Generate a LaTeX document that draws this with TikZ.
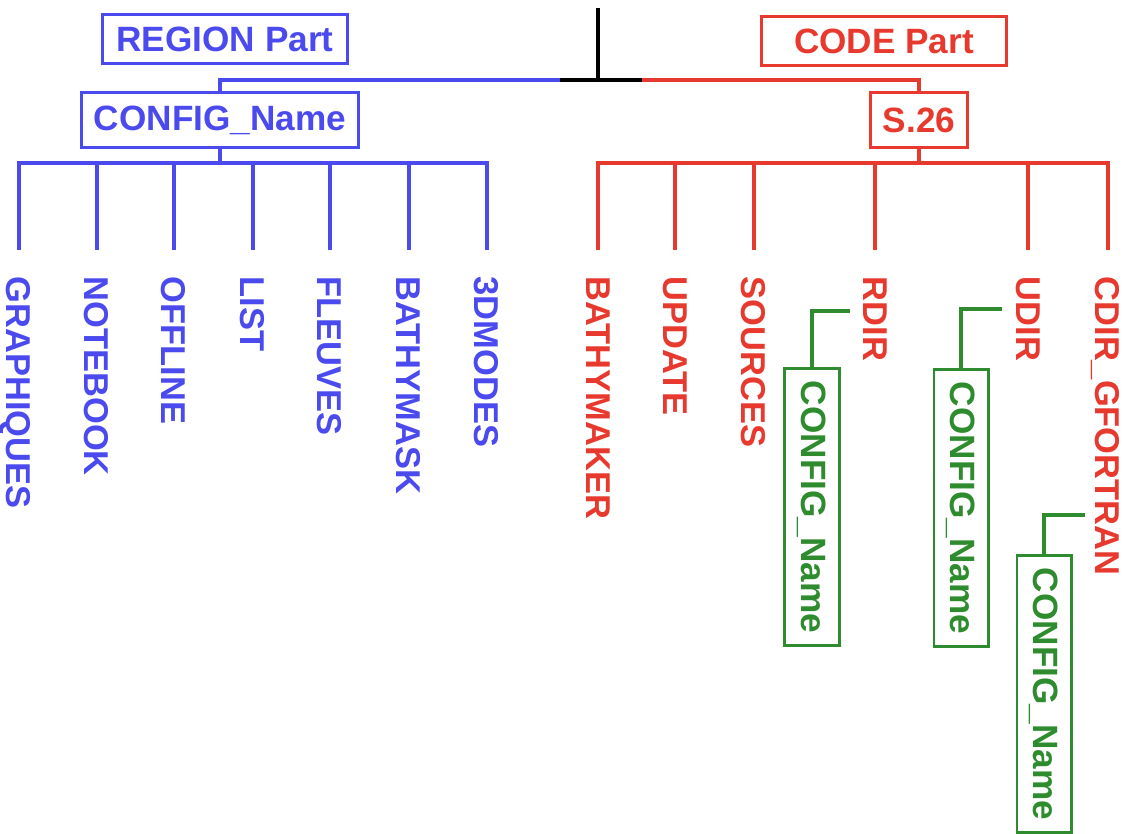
\documentclass[tikz,border=0pt]{standalone}
\usepackage{fontspec}
\setmainfont{Liberation Sans}

\definecolor{regBlue}{RGB}{74,74,238}
\definecolor{codeRed}{RGB}{232,57,46}
\definecolor{cfgGreen}{RGB}{46,139,46}

\tikzstyle{partNode} = [rectangle, minimum width=2.44cm, minimum height=0.48cm, inner xsep=0.12cm, text centered, line width=0.85pt, font=\fontsize{10}{12}\selectfont\bfseries]
\tikzstyle{dirNode} = [rectangle, minimum height=0.54cm, inner xsep=0.12cm, text centered, line width=0.85pt, font=\fontsize{10}{12}\selectfont\bfseries]
\tikzstyle{leafNode} = [rotate=-90, anchor=west, inner sep=0pt, text depth=0pt, font=\fontsize{9.8}{12}\selectfont\bfseries]
\tikzstyle{cfgNode} = [rectangle, rotate=-90, draw=cfgGreen, text=cfgGreen, minimum height=0.54cm, inner xsep=0.12cm, line width=0.85pt, font=\fontsize{10}{12}\selectfont\bfseries]
\tikzstyle{branch} = [line width=1.3pt]
\tikzstyle{cfgLink} = [line width=1pt, draw=cfgGreen]

\begin{document}
\begin{tikzpicture}[x=0.01cm, y=-0.01cm]
  \useasboundingbox (0,0) rectangle (1124,833);

  \coordinate (root) at (598,8);
  \coordinate (fork) at (598,80);
  \coordinate (forkL) at (560,80);
  \coordinate (forkR) at (642,80);

  \node (regionPart)[partNode, draw=regBlue, text=regBlue] at (225,39) {REGION Part};
  \node (codePart)[partNode, draw=codeRed, text=codeRed] at (884,41) {CODE Part};
  \node (regionCfg)[dirNode, draw=regBlue, text=regBlue] at (220,120) {CONFIG\_Name};
  \node (codeVer)[dirNode, draw=codeRed, text=codeRed] at (919,120) {S.26};

  \draw [branch, regBlue] (forkL) -| (regionCfg.north);
  \draw [branch, codeRed] (forkR) -| (codeVer.north);
  \draw [branch] (root) -- (fork);
  \draw [branch] (forkL) -- (forkR);

  % region side
  \coordinate (regionBus) at (220,163);
  \node (graphiques)[leafNode, text=regBlue] at (19,276) {GRAPHIQUES};
  \node (notebook)[leafNode, text=regBlue] at (97,276) {NOTEBOOK};
  \node (offline)[leafNode, text=regBlue] at (174,276) {OFFLINE};
  \node (list)[leafNode, text=regBlue] at (253,276) {LIST};
  \node (fleuves)[leafNode, text=regBlue] at (330,276) {FLEUVES};
  \node (bathymask)[leafNode, text=regBlue] at (409,276) {BATHYMASK};
  \node (modes3d)[leafNode, text=regBlue] at (487,276) {3DMODES};

  \draw [branch, regBlue] (regionCfg.south) -- (regionBus);
  \draw [branch, regBlue] ([yshift=0.26cm]graphiques.west) |- (regionBus) -| ([yshift=0.26cm]modes3d.west);
  \draw [branch, regBlue] (notebook.west |- regionBus) -- ([yshift=0.26cm]notebook.west);
  \draw [branch, regBlue] (offline.west |- regionBus) -- ([yshift=0.26cm]offline.west);
  \draw [branch, regBlue] (list.west |- regionBus) -- ([yshift=0.26cm]list.west);
  \draw [branch, regBlue] (fleuves.west |- regionBus) -- ([yshift=0.26cm]fleuves.west);
  \draw [branch, regBlue] (bathymask.west |- regionBus) -- ([yshift=0.26cm]bathymask.west);

  % code side
  \coordinate (codeBus) at (919,163);
  \node (bathymaker)[leafNode, text=codeRed] at (598,276) {BATHYMAKER};
  \node (update)[leafNode, text=codeRed] at (675,276) {UPDATE};
  \node (sources)[leafNode, text=codeRed] at (754,276) {SOURCES};
  \node (rdir)[leafNode, text=codeRed] at (875,276) {RDIR};
  \node (udir)[leafNode, text=codeRed] at (1028,276) {UDIR};
  \node (cdir)[leafNode, text=codeRed] at (1108,276) {CDIR\_GFORTRAN};

  \draw [branch, codeRed] (codeVer.south) -- (codeBus);
  \draw [branch, codeRed] ([yshift=0.26cm]bathymaker.west) |- (codeBus) -| ([yshift=0.26cm]cdir.west);
  \draw [branch, codeRed] (update.west |- codeBus) -- ([yshift=0.26cm]update.west);
  \draw [branch, codeRed] (sources.west |- codeBus) -- ([yshift=0.26cm]sources.west);
  \draw [branch, codeRed] (rdir.west |- codeBus) -- ([yshift=0.26cm]rdir.west);
  \draw [branch, codeRed] (udir.west |- codeBus) -- ([yshift=0.26cm]udir.west);

  % config dirs
  \node (rdirCfg)[cfgNode] at (812,507) {CONFIG\_Name};
  \node (udirCfg)[cfgNode] at (961,508) {CONFIG\_Name};
  \node (cdirCfg)[cfgNode] at (1044,694) {CONFIG\_Name};
  \coordinate (rdirTag) at (850,311);
  \coordinate (udirTag) at (1002,309);
  \coordinate (cdirTag) at (1085,515);

  \draw [cfgLink] (rdirTag) -| (rdirCfg.west);
  \draw [cfgLink] (udirTag) -| (udirCfg.west);
  \draw [cfgLink] (cdirTag) -| (cdirCfg.west);
\end{tikzpicture}
\end{document}
